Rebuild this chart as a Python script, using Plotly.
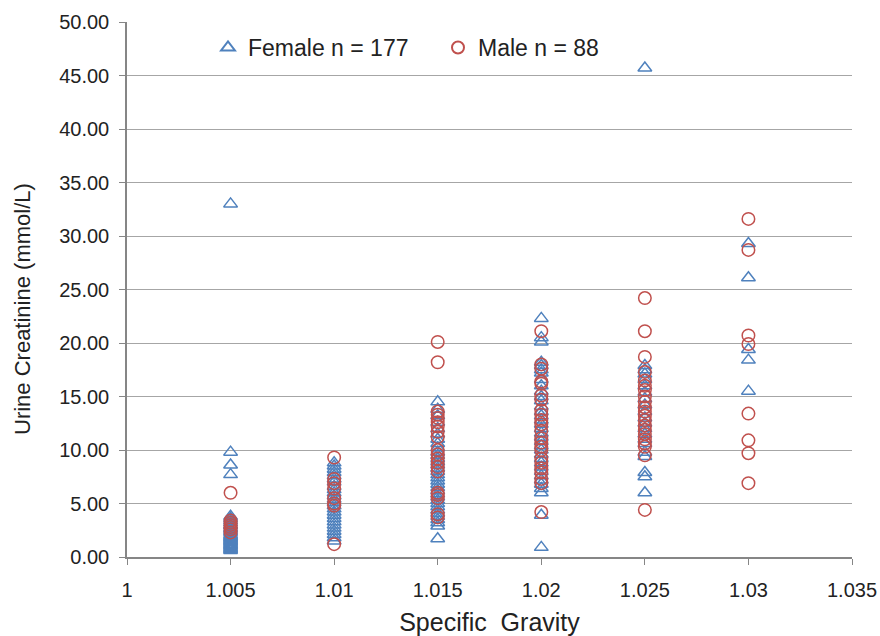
import plotly.graph_objects as go

# Specific gravity levels and tick labels
sg_levels = [1.005, 1.01, 1.015, 1.02, 1.025, 1.03]
x_tick_vals = [1.0, 1.005, 1.01, 1.015, 1.02, 1.025, 1.03, 1.035]
x_tick_text = ["1", "1.005", "1.01", "1.015", "1.02", "1.025", "1.03", "1.035"]

# Female urine creatinine (mmol/L) per specific gravity level
female_1005 = [33.0, 9.8, 8.6, 7.7, 3.8, 3.6, 3.4, 3.2, 3.0, 2.9, 2.7, 2.6, 2.4, 2.3, 2.1,
               2.0, 1.9, 1.8, 1.7, 1.6, 1.5, 1.4, 1.3, 1.2, 1.1, 1.0, 0.9, 0.8, 0.7, 0.6]
female_1010 = [8.8, 8.5, 8.2, 7.9, 7.6, 7.3, 7.0, 6.6, 6.3, 6.0, 5.7, 5.4, 5.1, 4.8, 4.5,
               4.2, 3.9, 3.6, 3.3, 3.0, 2.7, 2.4, 2.1, 1.8, 1.5]
female_1015 = [14.5, 13.8, 13.2, 12.6, 12.0, 11.5, 11.0, 10.6, 10.2, 9.8, 9.5, 9.2, 8.9, 8.6,
               8.3, 8.0, 7.7, 7.4, 7.1, 6.8, 6.5, 6.2, 5.9, 5.6, 5.3, 5.0, 4.7, 4.4, 4.1, 3.8,
               3.5, 3.2, 2.9, 1.7]
female_1020 = [22.3, 20.5, 20.1, 18.2, 17.9, 17.5, 17.2, 16.6, 16.0, 15.5, 15.0, 14.6, 14.1,
               13.6, 13.2, 12.8, 12.4, 12.0, 11.6, 11.2, 10.8, 10.4, 10.0, 9.6, 9.2, 8.8, 8.4,
               8.0, 7.6, 7.2, 6.8, 6.4, 6.0, 3.9, 0.9]
female_1025 = [45.7, 17.9, 17.5, 17.1, 16.6, 16.0, 15.4, 14.8, 14.2, 13.6, 13.0, 12.5, 12.0,
               11.5, 11.0, 10.6, 9.8, 9.4, 7.9, 7.5, 6.0]
female_1030 = [29.3, 26.1, 19.4, 18.4, 15.5]

# Male urine creatinine (mmol/L) per specific gravity level
male_1005 = [6.0, 3.4, 3.2, 3.0, 2.8, 2.6, 2.3]
male_1010 = [9.3, 7.3, 6.9, 6.4, 5.5, 5.0, 4.8, 1.2]
male_1015 = [20.1, 18.2, 13.6, 13.3, 13.0, 12.6, 12.2, 11.7, 11.2, 10.0, 9.6, 9.2, 8.8, 8.4,
             8.0, 6.0, 5.8, 5.5, 4.0, 3.7]
male_1020 = [21.1, 18.0, 17.6, 16.4, 16.2, 15.1, 14.7, 13.7, 13.3, 12.8, 12.4, 11.8, 11.1,
             10.7, 10.3, 10.0, 9.2, 8.8, 8.3, 7.9, 7.3, 6.9, 4.2]
male_1025 = [24.2, 21.1, 18.7, 17.3, 16.5, 16.0, 15.6, 15.0, 14.5, 14.0, 13.6, 13.2, 12.8,
             12.3, 11.9, 11.5, 11.0, 10.6, 10.3, 9.5, 4.4]
male_1030 = [31.6, 28.7, 20.7, 19.9, 13.4, 10.9, 9.7, 6.9]

female_groups = [female_1005, female_1010, female_1015, female_1020, female_1025, female_1030]
male_groups = [male_1005, male_1010, male_1015, male_1020, male_1025, male_1030]


def flatten(levels, groups):
    xs, ys = [], []
    for lvl, vals in zip(levels, groups):
        xs.extend([lvl] * len(vals))
        ys.extend(vals)
    return xs, ys


fx, fy = flatten(sg_levels, female_groups)
mx, my = flatten(sg_levels, male_groups)

FONT = "Liberation Sans, Arial, sans-serif"
TXT = "#222222"
BLUE = "#4F81BD"
RED = "#C0504D"

L, R, T, B = 127, 28, 22, 79
PW = 880 - L - R
PH = 636 - T - B

fig = go.Figure()
fig.add_trace(go.Scatter(
    x=fx, y=fy, mode="markers", name="Female n = 177",
    marker=dict(symbol="triangle-up-open", size=12, color=BLUE, line=dict(width=1.5, color=BLUE)),
    cliponaxis=False,
))
fig.add_trace(go.Scatter(
    x=mx, y=my, mode="markers", name="Male n = 88",
    marker=dict(symbol="circle-open", size=12.5, color=RED, line=dict(width=1.5, color=RED)),
    cliponaxis=False,
))

fig.update_layout(
    width=880, height=636,
    margin=dict(l=L, r=R, t=T, b=B),
    paper_bgcolor="white", plot_bgcolor="white",
    font=dict(family=FONT, size=20, color=TXT),
    showlegend=True,
    legend=dict(
        orientation="h", x=(208 - L) / PW, y=1 - 4 / PH, xanchor="left", yanchor="top",
        bgcolor="rgba(0,0,0,0)", font=dict(size=23, color=TXT),
        itemsizing="constant", entrywidth=185, entrywidthmode="pixels",
    ),
    xaxis=dict(
        range=[1.0, 1.035], tickvals=x_tick_vals, ticktext=x_tick_text,
        showgrid=False, zeroline=False, automargin=False,
        showline=True, linecolor="#868686", linewidth=1.5,
        ticks="outside", ticklen=6, tickcolor="#868686", tickwidth=1,
        tickfont=dict(size=20, family=FONT, color=TXT),
        ticklabelstandoff=8, ticklabeloverflow="allow",
        title=dict(text="Specific  Gravity", font=dict(size=25, family=FONT, color=TXT), standoff=19),
    ),
    yaxis=dict(
        range=[0, 50], dtick=5, tickformat=".2f",
        showgrid=True, gridcolor="#A6A6A6", gridwidth=1.2, zeroline=False, automargin=False,
        showline=True, linecolor="#868686", linewidth=1.5,
        ticks="outside", ticklen=6, tickcolor="#868686", tickwidth=1,
        tickfont=dict(size=20, family=FONT, color=TXT),
        ticklabelstandoff=6,
    ),
    annotations=[dict(
        text="Urine Creatinine (mmol/L)", textangle=-90,
        xref="paper", yref="paper", x=(22 - L) / PW, y=(557 - 309) / PH,
        xanchor="center", yanchor="middle", showarrow=False,
        font=dict(size=22, family=FONT, color=TXT),
    )],
)

fig.write_html("out.html")
